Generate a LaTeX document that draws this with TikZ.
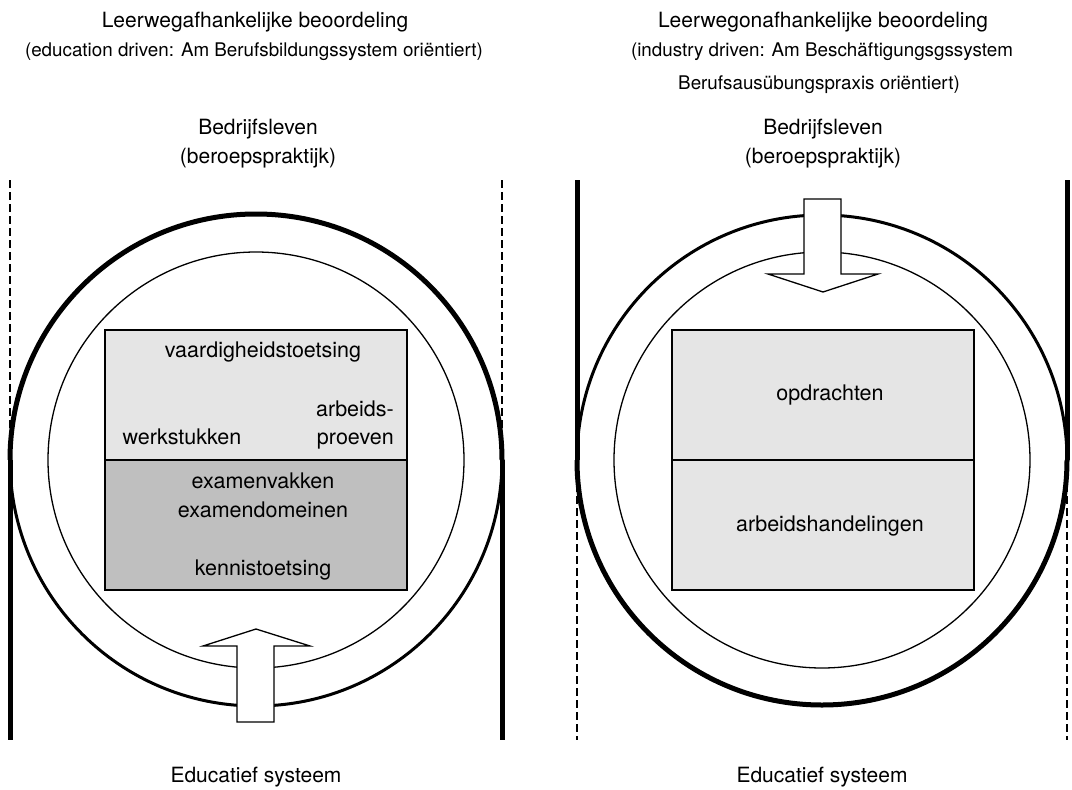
\documentclass[tikz,border=0pt]{standalone}
\usepackage{fontspec}
\setmainfont{TeX Gyre Heros}
\usetikzlibrary{positioning}

\definecolor{lightfill}{gray}{0.90}
\definecolor{darkfill}{gray}{0.75}

\tikzset{
  heavy line/.style={line width=5pt},
  medium line/.style={line width=3pt},
  dash line/.style={line width=1.4pt, dash pattern=on 8pt off 4pt},
  thin line/.style={line width=1.3pt},
  blockarrow/.style={draw, line width=1.3pt, fill=white, line join=miter},
  txt/.style={font=\fontsize{21}{25}\selectfont, anchor=base, inner sep=0pt},
  boxtxt/.style={font=\fontsize{21.5}{25}\selectfont, anchor=base, inner sep=0pt},
  smalltxt/.style={font=\fontsize{18.8}{22}\selectfont, anchor=base, inner sep=0pt},
  halfbox/.style={draw, line width=1.3pt, minimum width=302pt, minimum height=130pt, inner sep=0pt},
}

\begin{document}
\begin{tikzpicture}[x=1pt, y=-1pt]
  \useasboundingbox[fill=white] (0,0) rectangle (1072,790);

  % left: leerwegafhankelijk
  \node[txt] (titleL) at (255,27) {Leerwegafhankelijke beoordeling};
  \node[smalltxt] (subL) at (254,56) {(education driven: Am Berufsbildungssystem oriëntiert)};
  \node[txt] (bedrL) at (258,134) {Bedrijfsleven};
  \node[txt] (praktL) at (258,163) {(beroepspraktijk)};
  \node[txt] (eduL) at (256,782) {Educatief systeem};

  \draw[dash line] (10,180) -- (10,460);
  \draw[heavy line] (10,460) -- (10,740);
  \draw[dash line] (502,180) -- (502,460);
  \draw[heavy line] (502,460) -- (502,740);

  \draw[heavy line] (10,460) arc[start angle=180, end angle=360, radius=246];
  \draw[medium line] (502,460) arc[start angle=0, end angle=180, radius=246];
  \draw[thin line] (256,460) circle[radius=208];

  \node[halfbox, fill=lightfill] (skillL) at (256,395) {};
  \node[halfbox, fill=darkfill] (knowL) at (256,525) {};
  \node[boxtxt] (vaard) at (263,357) {vaardigheidstoetsing};
  \node[boxtxt, anchor=base east] (arb1) at (394,416) {arbeids-};
  \node[boxtxt, anchor=base east] (arb2) at (394,444) {proeven};
  \node[boxtxt] (werk) at (182,444) {werkstukken};
  \node[boxtxt] (vakken) at (263,488) {examenvakken};
  \node[boxtxt] (domein) at (263,517) {examendomeinen};
  \node[boxtxt] (kennis) at (263,575) {kennistoetsing};

  \draw[blockarrow] (237,722) -- (237,646) -- (203,646) -- (256,629)
    -- (310,646) -- (274,646) -- (274,722) -- cycle;

  % right: leerwegonafhankelijk
  \node[txt] (titleR) at (823,27) {Leerwegonafhankelijke beoordeling};
  \node[smalltxt] (subR1) at (822,56) {(industry driven: Am Beschäftigungsgssystem};
  \node[smalltxt] (subR2) at (819,89) {Berufsausübungspraxis oriëntiert)};
  \node[txt] (bedrR) at (823,134) {Bedrijfsleven};
  \node[txt] (praktR) at (823,163) {(beroepspraktijk)};
  \node[txt] (eduR) at (822,782) {Educatief systeem};

  \draw[heavy line] (577,180) -- (577,460);
  \draw[dash line] (577,460) -- (577,740);
  \draw[heavy line] (1067,180) -- (1067,460);
  \draw[dash line] (1067,460) -- (1067,740);

  \draw[medium line] (577,460) arc[start angle=180, end angle=360, radius=245];
  \draw[heavy line] (1067,460) arc[start angle=0, end angle=180, radius=245];
  \draw[thin line] (822,460) circle[radius=208];

  \node[halfbox, fill=lightfill] (taskR) at (823,395) {};
  \node[halfbox, fill=lightfill] (actR) at (823,525) {};
  \node[boxtxt] (opdr) at (830,400) {opdrachten};
  \node[boxtxt] (handel) at (830,531) {arbeidshandelingen};

  \draw[blockarrow] (804,199) -- (804,274) -- (768,274) -- (823,292)
    -- (878,274) -- (841,274) -- (841,199) -- cycle;
\end{tikzpicture}
\end{document}
